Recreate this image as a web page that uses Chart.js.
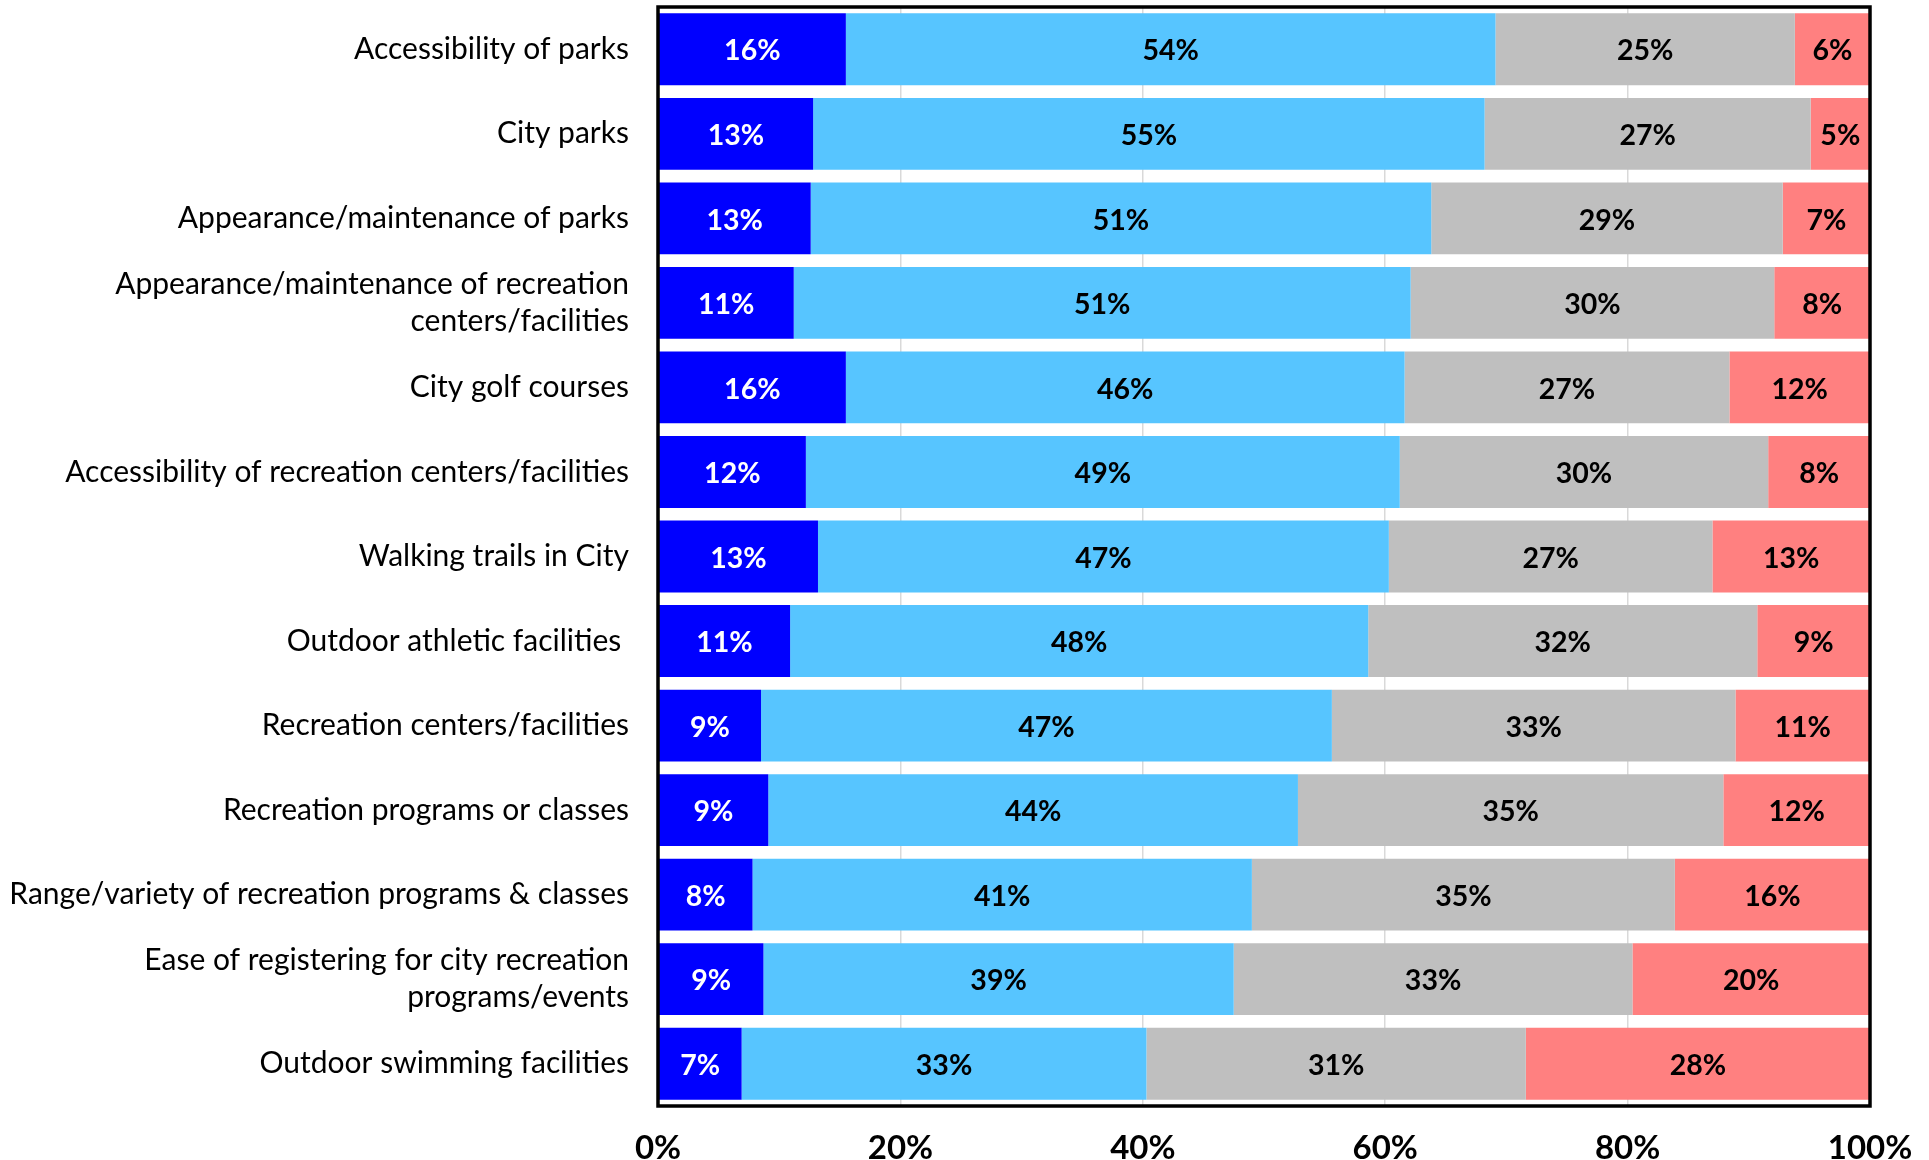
<!DOCTYPE html>
<html>
<head>
<meta charset="utf-8">
<script src="https://cdn.jsdelivr.net/npm/chart.js@4"></script>
<style>
  html, body { margin: 0; padding: 0; background: #fff; }
  #wrap { width: 1929px; height: 1160px; }
</style>
</head>
<body>
<div id="wrap"><canvas id="barChart"></canvas></div>
<script>
// categories, top to bottom
const categories = [
  'Accessibility of parks',
  'City parks',
  'Appearance/maintenance of parks',
  ['Appearance/maintenance of recreation', 'centers/facilities'],
  'City golf courses',
  'Accessibility of recreation centers/facilities',
  'Walking trails in City',
  'Outdoor athletic facilities ',
  'Recreation centers/facilities',
  'Recreation programs or classes',
  'Range/variety of recreation programs & classes',
  ['Ease of registering for city recreation', 'programs/events'],
  'Outdoor swimming facilities'
];

// series values (percent)
const veryHigh = [15.5, 12.8, 12.6, 11.2, 15.5, 12.2, 13.2, 10.9, 8.5, 9.1, 7.8, 8.7, 6.9];
const high     = [53.6, 55.4, 51.2, 50.9, 46.1, 49.0, 47.1, 47.7, 47.1, 43.7, 41.2, 38.8, 33.4];
const neutral  = [24.7, 26.9, 29.0, 30.0, 26.8, 30.4, 26.7, 32.1, 33.3, 35.1, 34.9, 32.9, 31.3];
const low      = [6.2, 4.9, 7.2, 7.9, 11.6, 8.4, 13.0, 9.3, 11.1, 12.1, 16.1, 19.6, 28.4];

const xTicks = [0, 20, 40, 60, 80, 100];

const FONT = 'Lato, "Open Sans", sans-serif';

// labels in the middle of every segment
const segmentLabels = {
  id: 'segmentLabels',
  afterDatasetsDraw(chart) {
    const ctx = chart.ctx;
    ctx.save();
    ctx.font = 'bold 28.5px ' + FONT;
    ctx.textAlign = 'center';
    ctx.textBaseline = 'middle';
    chart.data.datasets.forEach((ds, i) => {
      const meta = chart.getDatasetMeta(i);
      meta.data.forEach((bar, j) => {
        const v = ds.data[j];
        ctx.fillStyle = ds.labelColor;
        ctx.fillText(Math.round(v) + '%', (bar.x + bar.base) / 2, bar.y + 2);
      });
    });
    ctx.restore();
  }
};

// black frame round the plot area
const frame = {
  id: 'frame',
  afterDraw(chart) {
    const a = chart.chartArea;
    const ctx = chart.ctx;
    ctx.save();
    ctx.strokeStyle = '#000';
    ctx.lineWidth = 3.5;
    ctx.strokeRect(a.left, a.top, a.right - a.left, a.bottom - a.top);
    ctx.restore();
  }
};

const barCtx = document.getElementById('barChart').getContext('2d');
new Chart(barCtx, {
  type: 'bar',
  data: {
    labels: categories,
    datasets: [
      { data: veryHigh, backgroundColor: '#0000FF', labelColor: '#FFFFFF' },
      { data: high, backgroundColor: '#57C5FF', labelColor: '#000000' },
      { data: neutral, backgroundColor: '#BFBFBF', labelColor: '#000000' },
      { data: low, backgroundColor: '#FF8080', labelColor: '#000000' }
    ]
  },
  options: {
    indexAxis: 'y',
    responsive: true,
    maintainAspectRatio: false,
    animation: false,
    datasets: { bar: { categoryPercentage: 1, barPercentage: 0.85, borderWidth: 0 } },
    layout: { padding: { top: 7, right: 59, left: 0, bottom: 0 } },
    plugins: { legend: { display: false }, tooltip: { enabled: false } },
    scales: {
      x: {
        stacked: true,
        min: 0,
        max: 100,
        afterBuildTicks: (scale) => { scale.ticks = xTicks.map(v => ({ value: v })); },
        grid: { color: '#D9D9D9', lineWidth: 1.5, drawTicks: false },
        border: { display: false },
        ticks: {
          padding: 23,
          color: '#000',
          font: { family: FONT, size: 33, weight: 'bold' },
          callback: (v) => v + '%'
        },
        afterFit: (scale) => { scale.height = 54; scale.paddingLeft = 0; scale.paddingRight = 0; }
      },
      y: {
        stacked: true,
        grid: { display: false, drawTicks: false },
        border: { display: false },
        ticks: {
          padding: 29,
          color: '#000',
          font: { family: FONT, size: 30, lineHeight: 1.23 }
        },
        afterFit: (scale) => { scale.width = 658; scale.paddingTop = 0; scale.paddingBottom = 0; }
      }
    }
  },
  plugins: [segmentLabels, frame]
});
</script>
</body>
</html>
